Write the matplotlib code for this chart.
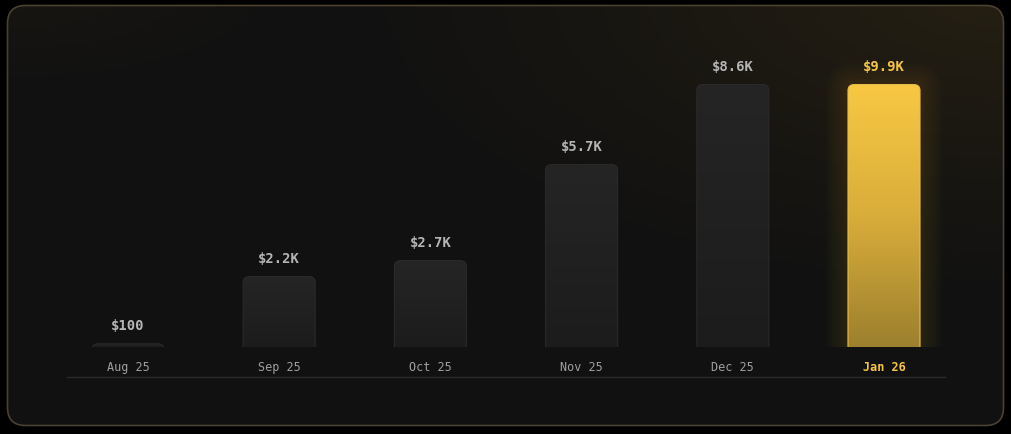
import numpy as np
import matplotlib
matplotlib.use("Agg")
import matplotlib.pyplot as plt
from matplotlib.patches import FancyBboxPatch
from matplotlib.colors import LinearSegmentedColormap

months = ["Aug 25", "Sep 25", "Oct 25", "Nov 25", "Dec 25", "Jan 26"]
revenue = [100, 2200, 2700, 5700, 8600, 9900]
value_labels = ["$100", "$2.2K", "$2.7K", "$5.7K", "$8.6K", "$9.9K"]
bar_cap = 8200  # tallest bars are capped in the display

W, H = 1012, 434
fig = plt.figure(figsize=(W / 100, H / 100), dpi=100)
fig.patch.set_facecolor("black")

# background card in pixel coordinates
bg = fig.add_axes([0, 0, 1, 1])
bg.set_xlim(0, W)
bg.set_ylim(H, 0)
bg.axis("off")

yy, xx = np.mgrid[0:H, 0:W]
base = np.array([17, 17, 17], float)
glow = np.array([38, 32, 19], float)
d = np.sqrt(((xx - 1000) / 700.0) ** 2 + ((yy + 10) / 330.0) ** 2)
t = np.clip(1 - d, 0, 1) ** 1.3
d2 = np.sqrt(((xx - 20) / 420.0) ** 2 + ((yy + 10) / 150.0) ** 2)
t2 = np.clip(1 - d2, 0, 1) ** 2 * 0.35
tt = np.clip(t + t2, 0, 1)[..., None]
img = (base + (glow - base) * tt) / 255.0
card = FancyBboxPatch((7.5, 5.5), 996, 420, boxstyle="round,pad=0,rounding_size=18",
                      facecolor="none", edgecolor="#4a4130", linewidth=1.2, zorder=3)
bg.add_patch(card)
im = bg.imshow(img, extent=(0, W, H, 0), zorder=1, interpolation="bilinear")
im.set_clip_path(card)

# baseline
bg.plot([67, 945], [376.5, 376.5], color="#2b2b2b", linewidth=1, zorder=2)

# bar axes
ax = fig.add_axes([52.4 / W, 1 - 347 / H, 907.2 / W, 320 / H])
ax.set_xlim(-0.5, 5.5)
ax.set_ylim(0, 10000)
ax.axis("off")
ax.patch.set_alpha(0)

px_x = 151.2       # pixels per x unit
px_y = 0.032       # pixels per y unit
bw = 72 / px_x
r = 6 / px_x
aspect = px_x / px_y

x = np.arange(len(months))
heights = np.minimum(revenue, bar_cap)
bars = ax.bar(x, heights, width=bw, color="none")

gray_cmap = LinearSegmentedColormap.from_list("g", ["#1c1c1c", "#252525"])
gold_cmap = LinearSegmentedColormap.from_list("y", ["#9c802e", "#d9ad3a", "#f8c843"])

for i, b in enumerate(bars):
    h = b.get_height()
    x0 = b.get_x()
    last = i == len(bars) - 1
    if last:
        # soft glow
        for k in range(22, 0, -2):
            g = FancyBboxPatch((x0 - k / px_x, -900), bw + 2 * k / px_x, h + 900 + k / px_y,
                               boxstyle=f"round,pad=0,rounding_size={(6 + k) / px_x}",
                               mutation_aspect=aspect, facecolor="#f5c542", edgecolor="none",
                               alpha=0.011, zorder=1)
            ax.add_patch(g)
    p = FancyBboxPatch((x0, -900), bw, h + 900, boxstyle=f"round,pad=0,rounding_size={r}",
                       mutation_aspect=aspect, facecolor="none",
                       edgecolor="#e9bf45" if last else "#2a2a2a", linewidth=0.8, zorder=3)
    ax.add_patch(p)
    grad = np.linspace(0, 1, 256)[:, None]
    gi = ax.imshow(grad, extent=(x0, x0 + bw, 0, h), origin="lower", aspect="auto",
                   cmap=gold_cmap if last else gray_cmap, zorder=2)
    gi.set_clip_path(p)

    col = "#f5c542" if last else "#b5b5b5"
    ax.annotate(value_labels[i], xy=(i, h), xytext=(0, 13), textcoords="offset points",
                ha="center", va="center", color=col, fontsize=10, fontweight="bold",
                family="DejaVu Sans Mono", annotation_clip=False)
    ax.annotate(months[i], xy=(i, 0), xytext=(0, -14.5), textcoords="offset points",
                ha="center", va="center", color="#f5c542" if last else "#a0a0a0",
                fontsize=8.5, fontweight="bold" if last else "normal",
                family="DejaVu Sans Mono", annotation_clip=False)

ax.set_xlim(-0.5, 5.5)
ax.set_ylim(0, 10000)

fig.savefig("out.png", dpi=100, facecolor="black")
